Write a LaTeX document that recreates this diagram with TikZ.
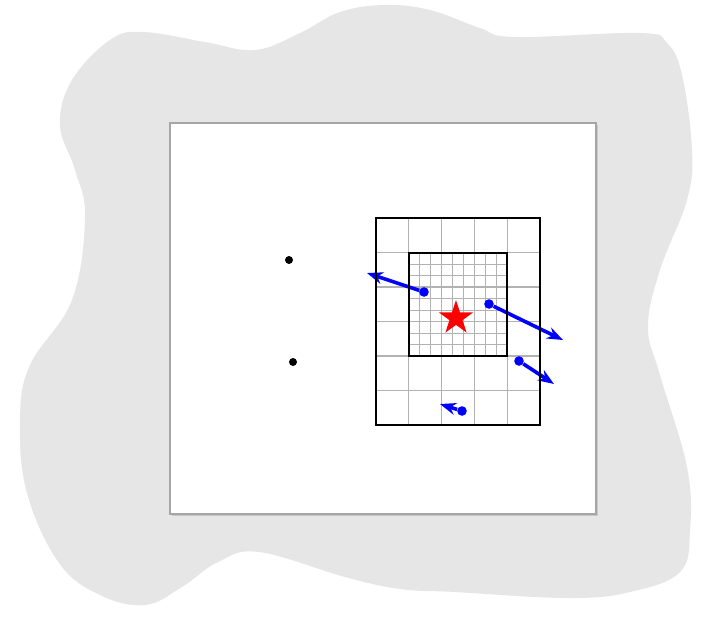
\documentclass[tikz,border=0pt]{standalone}
\usetikzlibrary{arrows.meta,shapes.geometric}
\definecolor{blobgray}{HTML}{E6E6E6}
\begin{document}
\begin{tikzpicture}[x=0.25mm,y=-0.25mm,
  coarse/.style={draw=black!30,line width=0.3mm},
  fine/.style={draw=black!30,line width=0.2mm},
  box/.style={draw=black,line width=0.5mm},
  flow/.style={draw=blue,line width=0.9mm,-{Stealth[length=4mm,width=3mm]}},
  tail/.style={fill=blue,circle,inner sep=0pt,minimum size=2.4mm},
  site/.style={fill=black,circle,inner sep=0pt,minimum size=2mm}]
  \useasboundingbox (0,0) rectangle (710,624);
  % Grey blob behind the frame.
  \fill[blobgray] plot[smooth cycle,tension=0.65] coordinates {
    (110,40) (143,32) (205,42) (255,50) (300,33) (340,12) (385,5) (430,10)
    (480,28) (515,37) (640,33) (667,43) (682,75) (692,150) (687,200)
    (660,270) (648,327) (660,375) (687,467) (690,530) (680,572) (630,592)
    (568,598) (455,592) (400,589) (345,577) (259,552) (218,562)
    (182,587) (145,605) (100,595) (59,563) (27,493) (20,420) (30,365)
    (72,300) (85,217) (75,170) (60,125) (72,80)};
  % White frame with a faint shadow.
  \fill[black!22] (171.5,124.5) rectangle (597.5,515.5);
  \filldraw[fill=white,draw=black!35,line width=0.3mm] (170,123) rectangle (596,514);
  % Coarse grid.
  \foreach \i in {1,...,4} \draw[coarse] (376+32.8*\i,218) -- (376+32.8*\i,425);
  \foreach \j in {1,...,5} \draw[coarse] (376,218+34.5*\j) -- (540,218+34.5*\j);
  % Fine grid in the inner box.
  \foreach \i in {1,...,8} \draw[fine] (408.8+10.93*\i,252.5) -- (408.8+10.93*\i,356);
  \foreach \j in {1,...,8} \draw[fine] (408.8,252.5+11.5*\j) -- (507.2,252.5+11.5*\j);
  % Goal star.
  \node[star,star points=5,star point ratio=2.618,fill=red,inner sep=0pt,
    minimum size=9mm] (goal) at (456,318) {};
  % Two sites.
  \node[site] (s1) at (289,260) {};
  \node[site] (s2) at (293,362) {};
  % Flow arrows.
  \node[tail] (t1) at (424,292) {};
  \node[tail] (t2) at (489,304) {};
  \node[tail] (t3) at (519,361) {};
  \node[tail] (t4) at (462,411) {};
  \coordinate (h1) at (367,273);
  \coordinate (h2) at (563,340);
  \coordinate (h3) at (554,384);
  \coordinate (h4) at (440,404);
  \foreach \k in {1,...,4} \draw[flow] (t\k) -- (h\k);
  % Boxes on top.
  \draw[box] (376,218) rectangle (540,425);
  \draw[box] (408.8,252.5) rectangle (507.2,356);
\end{tikzpicture}
\end{document}
